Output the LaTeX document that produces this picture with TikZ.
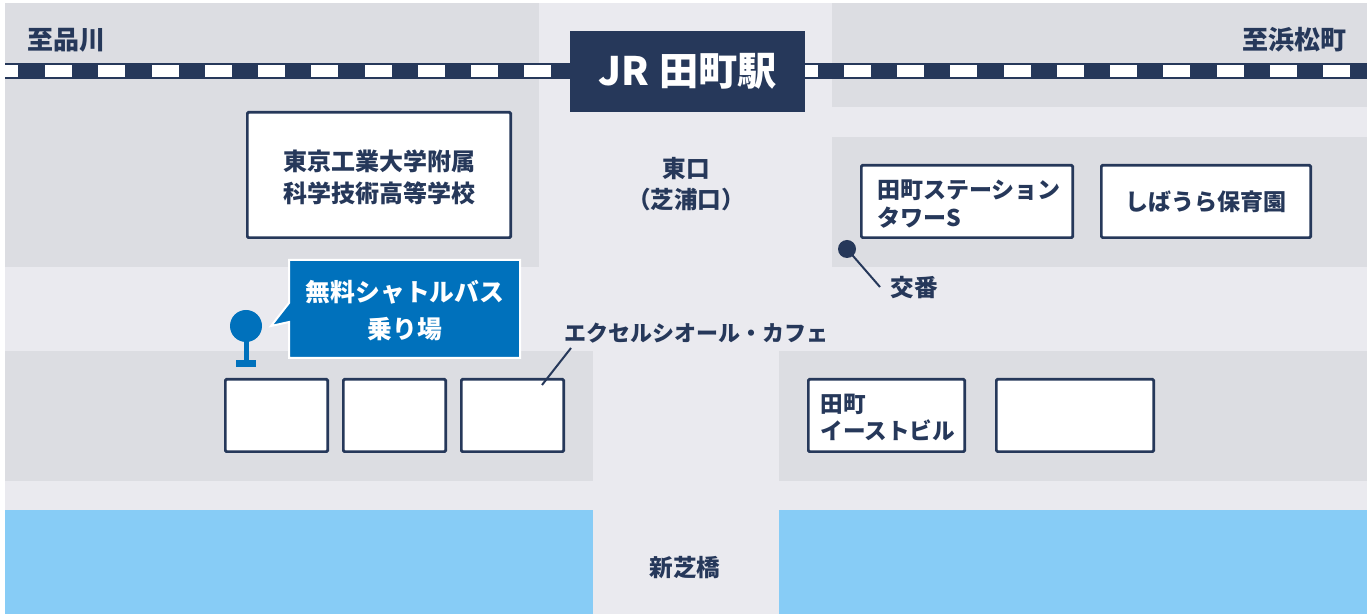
\documentclass[tikz,border=0pt]{standalone}
\usepackage{fontspec}
\setmainfont{Noto Sans CJK JP}
\definecolor{bgc}{HTML}{EAEAEF}
\definecolor{blockc}{HTML}{DCDDE2}
\definecolor{navy}{HTML}{26385A}
\definecolor{busblue}{HTML}{0071BC}
\definecolor{water}{HTML}{87CCF6}
\tikzset{
  block/.style={fill=blockc},
  bldg/.style={draw=navy, line width=1.35pt, fill=white, rounded corners=0.6pt, inner sep=0pt},
  lbl/.style={text=navy, font=\bfseries\fontsize{11.8}{16}\selectfont, inner sep=0pt},
  leader/.style={draw=navy, line width=1pt},
}
\begin{document}
\begin{tikzpicture}[x=0.5pt,y=-0.5pt]
\useasboundingbox (0,0) rectangle (1372,614);
\fill[white] (0,0) rectangle (1372,614);
\fill[bgc] (5,3) rectangle (1367,614);
% city blocks
\fill[block] (5,3) rectangle (539,267);
\fill[block] (832,3) rectangle (1367,107);
\fill[block] (832,137) rectangle (1367,267);
\fill[block] (5,351) rectangle (593,481);
\fill[block] (779,351) rectangle (1367,481);
% water
\fill[water] (5,510) rectangle (593,614);
\fill[water] (779,510) rectangle (1367,614);
% railway
\fill[navy] (5,63) rectangle (1367,79);
\fill[white] (5,65) rectangle (18,77);
\foreach \k in {0,...,24}{\fill[white] ({45+53.25*\k},65) rectangle +(27,12);}
% station
\node[fill=navy, minimum width=117.5pt, minimum height=40.5pt, inner sep=0pt,
      text=white, font=\bfseries\fontsize{19.6}{22}\selectfont] (jr) at (687.5,71.5) {JR\hspace{5pt}田町駅};
% direction labels
\node[lbl, anchor=west, font=\bfseries\fontsize{13}{15}\selectfont] (shinagawa) at (27,40) {至品川};
\node[lbl, anchor=east, font=\bfseries\fontsize{13}{15}\selectfont] (hamamatsucho) at (1347,40) {至浜松町};
% buildings
\node[bldg, minimum width={266*0.5pt-1.35pt}, minimum height={128*0.5pt-1.35pt}] (tk) at (379,175) {};
\node[lbl, align=center, font=\bfseries\fontsize{12}{16}\selectfont] (tktext) at (379,177) {東京工業大学附属\\科学技術高等学校};
\node[bldg, minimum width={214*0.5pt-1.35pt}, minimum height={75*0.5pt-1.35pt}] (ts) at (967,201.5) {};
\node[lbl, align=left, anchor=west, font=\bfseries\fontsize{11.5}{14}\selectfont] (tstext) at (877,204) {田町ステーション\\タワーS};
\node[bldg, minimum width={212*0.5pt-1.35pt}, minimum height={75*0.5pt-1.35pt}] (sh) at (1206,201.5) {};
\node[lbl, font=\bfseries\fontsize{11.5}{14}\selectfont] (shtext) at (1206,201.5) {しばうら保育園};
\node[bldg, minimum width={105*0.5pt-1.35pt}, minimum height={75*0.5pt-1.35pt}] (b1) at (276.5,415.5) {};
\node[bldg, minimum width={105*0.5pt-1.35pt}, minimum height={75*0.5pt-1.35pt}] (b2) at (394.5,415.5) {};
\node[bldg, minimum width={105*0.5pt-1.35pt}, minimum height={75*0.5pt-1.35pt}] (b3) at (512.5,415.5) {};
\node[bldg, minimum width={159*0.5pt-1.35pt}, minimum height={75*0.5pt-1.35pt}] (te) at (886.5,415.5) {};
\node[lbl, align=left, anchor=west, font=\bfseries\fontsize{11.3}{13.5}\selectfont] (tetext) at (820,417) {田町\\イーストビル};
\node[bldg, minimum width={160*0.5pt-1.35pt}, minimum height={75*0.5pt-1.35pt}] (b5) at (1075,415.5) {};
% street labels
\node[lbl, align=center, font=\bfseries\fontsize{11.8}{15.5}\selectfont] (east) at (686,184) {東口\\（芝浦口）};
\node[lbl] (bridge) at (685,568) {新芝橋};
% cafe label
\node[lbl, anchor=west, font=\bfseries\fontsize{11}{13}\selectfont] (cafe) at (564,333) {エクセルシオール・カフェ};
\coordinate (cafept) at (542,385);
\coordinate (cafeend) at (571,348);
\draw[leader] (cafept) -- (cafeend);
% koban
\node[circle, fill=navy, minimum size=9pt, inner sep=0pt] (koban) at (847,249) {};
\node[lbl, anchor=west] (kobantext) at (890,288) {交番};
\coordinate (kobanend) at (880,287);
\draw[leader] (koban.center) -- (kobanend);
% bus stop
\fill[busblue] (244,338) rectangle (249,361);
\fill[busblue] (236,360) rectangle (256,367);
\node[circle, fill=busblue, minimum size=16pt, inner sep=0pt] (busstop) at (246,326) {};
% callout
\filldraw[fill=busblue, draw=white, line width=1pt]
  (289,260) -- (520,260) -- (520,358) -- (289,358) -- (289,322) -- (271,326) -- (289,303) -- cycle;
\node[lbl, text=white, align=center, font=\bfseries\fontsize{12.4}{18.5}\selectfont] (bustext) at (405,311) {無料シャトルバス\\乗り場};
\end{tikzpicture}
\end{document}
